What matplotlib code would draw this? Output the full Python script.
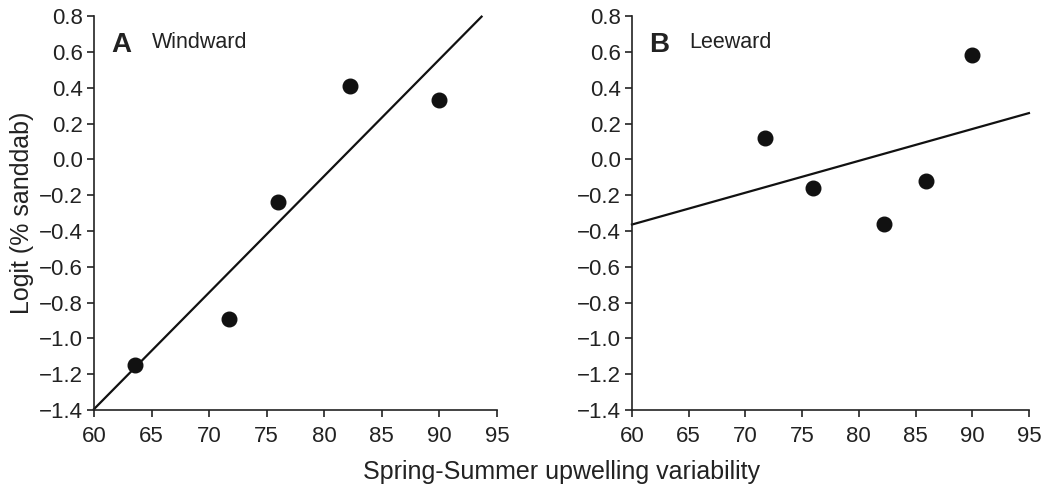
import matplotlib.pyplot as plt
import numpy as np

plt.rcParams['font.family'] = ['Liberation Sans', 'DejaVu Sans']

# upwelling variability vs logit(% sanddab)
wind_x = [63.6, 71.7, 76.0, 82.2, 90.0]
wind_y = [-1.15, -0.89, -0.24, 0.41, 0.33]
lee_x = [71.7, 76.0, 82.2, 85.9, 90.0]
lee_y = [0.12, -0.16, -0.36, -0.12, 0.58]

panels = [('A', 'Windward', wind_x, wind_y), ('B', 'Leeward', lee_x, lee_y)]
yticks = np.round(np.arange(-1.4, 0.81, 0.2), 1) + 0.0
xticks = [60, 65, 70, 75, 80, 85, 90, 95]

fig = plt.figure(figsize=(10.51, 4.88), dpi=100)
ax1 = fig.add_axes([0.0894, 0.160, 0.3834, 0.807])
ax2 = fig.add_axes([0.6013, 0.160, 0.3777, 0.807])

for ax, (letter, name, x, y) in zip([ax1, ax2], panels):
    # least squares line, cut where it leaves the plot
    slope, icpt = np.polyfit(x, y, 1)
    lx = np.linspace(60, 95, 500)
    ly = slope * lx + icpt
    keep = (ly >= -1.4) & (ly <= 0.8)
    ax.plot(lx[keep], ly[keep], color='#111111', lw=1.6, clip_on=False)
    ax.plot(x, y, 'o', color='#111111', ms=10.5, clip_on=False)
    ax.set_xlim(60, 95)
    ax.set_ylim(-1.4, 0.8)
    ax.set_xticks(xticks)
    ax.set_yticks(yticks)
    ax.set_yticklabels([('%.1f' % abs(v) if abs(v) < 1e-9 else '%.1f' % v).replace('-', '\u2212')
                        for v in yticks])
    ax.tick_params(labelsize=16, length=4.8, width=1.2, color='#222222', labelcolor='#222222')
    ax.tick_params(axis='y', pad=3)
    ax.tick_params(axis='x', pad=7)
    for s in ['top', 'right']:
        ax.spines[s].set_visible(False)
    for s in ['left', 'bottom']:
        ax.spines[s].set_linewidth(1.2)
        ax.spines[s].set_color('#222222')
    ax.text(0.044, 0.926, letter, transform=ax.transAxes, fontsize=20,
            fontweight='bold', va='center', ha='left', color='#222222')
    ax.text(0.145, 0.934, name, transform=ax.transAxes, fontsize=15.5,
            va='center', ha='left', color='#222222')

fig.text(0.021, 0.563, 'Logit (% sanddab)', fontsize=18, rotation=90,
         ha='center', va='center', color='#222222')
fig.text(0.534, 0.033, 'Spring-Summer upwelling variability', fontsize=18,
         ha='center', va='center', color='#222222')

plt.savefig('out.png', dpi=100)
